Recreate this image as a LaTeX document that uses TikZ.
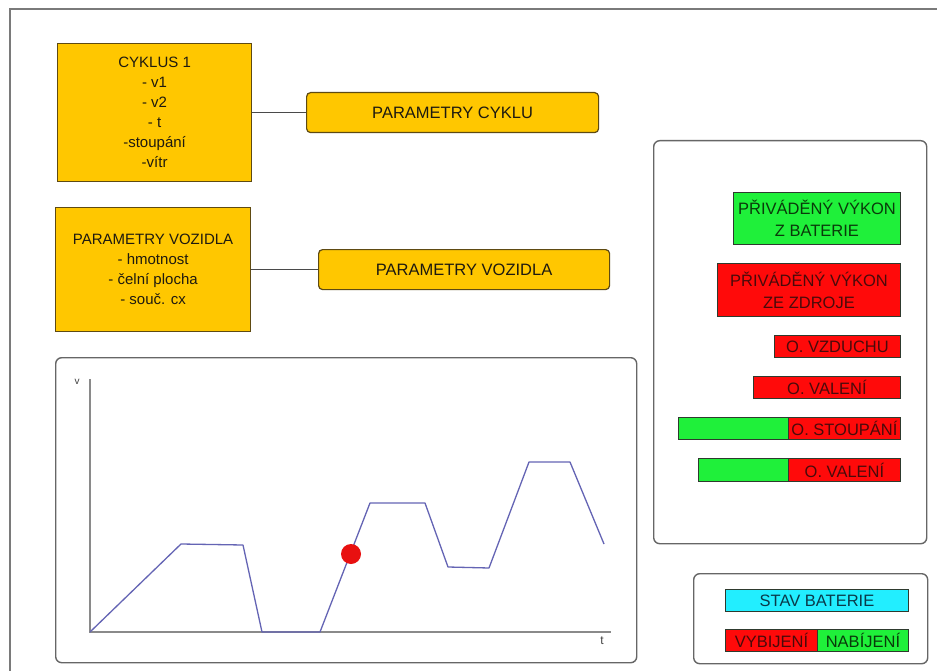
\documentclass[tikz,border=0pt]{standalone}
\usepackage{fontspec}
\setmainfont{Liberation Sans}
\begin{document}
\begin{tikzpicture}[x=1pt,y=-1pt,
  txt/.style={font=\fontsize{15}{20}\selectfont, align=center, inner sep=0pt},
  bigtxt/.style={font=\fontsize{16.5}{22}\selectfont},
  obox/.style={txt, draw=orangeedge, fill=orangefill, text=darktext, line width=1.2pt, anchor=north west},
  rbox/.style={obox, bigtxt, rounded corners=4pt},
  panel/.style={draw=panelgray, line width=1.4pt, rounded corners=6pt, anchor=north west, inner sep=0pt},
  redbox/.style={txt, bigtxt, draw=boxedge, fill=redfill, text=redtext, line width=0.9pt, anchor=north west},
  greenbox/.style={txt, bigtxt, draw=boxedge, fill=greenfill, text=greentext, line width=0.9pt, anchor=north west},
  cyanbox/.style={txt, bigtxt, draw=boxedge, fill=cyanfill, text=cyantext, line width=0.9pt, anchor=north west},
  link/.style={draw=linkgray, line width=1.3pt},
  axis/.style={draw=axisgray, line width=1.8pt},
  curve/.style={draw=curveblue, line width=1.3pt, line join=round},
]
\definecolor{orangefill}{HTML}{FFC700}
\definecolor{orangeedge}{HTML}{5E4A12}
\definecolor{darktext}{HTML}{1E1A10}
\definecolor{panelgray}{HTML}{666666}
\definecolor{framegray}{HTML}{7A7A7A}
\definecolor{boxedge}{HTML}{2E3A2E}
\definecolor{redfill}{HTML}{FF0A0A}
\definecolor{greenfill}{HTML}{1FF03A}
\definecolor{cyanfill}{HTML}{22EEFF}
\definecolor{redtext}{HTML}{4A0A0A}
\definecolor{greentext}{HTML}{0A3A0A}
\definecolor{cyantext}{HTML}{0A3A4A}
\definecolor{linkgray}{HTML}{4A4A4A}
\definecolor{axisgray}{HTML}{8A8A8A}
\definecolor{curveblue}{HTML}{6464B4}
\definecolor{dotred}{HTML}{E81010}

\useasboundingbox (0,0) rectangle (937,671);
\fill[white] (0,0) rectangle (937,671);

% outer window frame (only its top and left edges are in view)
\draw[framegray, line width=2pt] (10,671) -- (10,9.5) -- (937,9.5);

% cycle parameters
\node[obox, minimum width=194pt, minimum height=138pt] (cyk) at (57,43)
  {CYKLUS 1\\- v1\\- v2\\- t\\-stoupání\\-vítr};
\node[rbox, minimum width=292pt, minimum height=40pt] (pc) at (306,92) {PARAMETRY CYKLU};
\draw[link] (cyk.east) -- (pc.west);

% vehicle parameters
\node[obox, minimum width=195pt, minimum height=124pt] (veh) at (55,207)
  {PARAMETRY VOZIDLA\\- hmotnost\\- čelní plocha\\- souč. cx};
\node[rbox, minimum width=291pt, minimum height=40pt] (pv) at (318,249) {PARAMETRY VOZIDLA};
\draw[link] (veh.east) -- (pv.west);

% speed profile panel
\node[panel, minimum width=581pt, minimum height=305pt] (graph) at (55,357) {};
\coordinate (o) at (90,632);
\coordinate (ytop) at (90,379);
\coordinate (xend) at (611,632);
\draw[axis] (ytop) -- (o) -- (xend);
\node[font=\fontsize{10}{12}\selectfont, text=black!75, inner sep=0pt] (vlab) at (77,382) {v};
\node[font=\fontsize{12}{12}\selectfont, text=black!75, inner sep=0pt] (tlab) at (602,641) {t};
\draw[curve] (o) -- (181,544) -- (243,545) -- (262,632) -- (320,632)
  -- (370,503) -- (425,503) -- (448,567) -- (489,568)
  -- (529,462) -- (570,462) -- (604,544);
\fill[dotred] (351,554) circle (10pt);

% power flow panel
\node[panel, minimum width=273pt, minimum height=403pt] (power) at (653,140) {};
\node[greenbox, minimum width=167pt, minimum height=52pt] (pbat) at (733,192)
  {PŘIVÁDĚNÝ VÝKON\\Z BATERIE};
\node[redbox, minimum width=183pt, minimum height=53pt] (pzdr) at (717,263)
  {PŘIVÁDĚNÝ VÝKON\\ZE ZDROJE};
\node[redbox, minimum width=126pt, minimum height=22pt] (ovz) at (774,335) {O. VZDUCHU};
\node[redbox, minimum width=147pt, minimum height=22pt] (oval) at (753,376) {O. VALENÍ};
\node[greenbox, minimum width=110pt, minimum height=22pt] (gsto) at (678,417) {};
\node[redbox, minimum width=112pt, minimum height=22pt] (osto) at (788,417) {O. STOUPÁNÍ};
\node[greenbox, minimum width=90pt, minimum height=23pt] (gval) at (698,458) {};
\node[redbox, minimum width=112pt, minimum height=23pt] (oval2) at (788,458) {O. VALENÍ};

% battery state panel
\node[panel, minimum width=234pt, minimum height=90pt] (batt) at (693,573) {};
\node[cyanbox, minimum width=183pt, minimum height=22pt] (stav) at (725,589) {STAV BATERIE};
\node[redbox, minimum width=92pt, minimum height=22pt] (vyb) at (725,629) {VYBIJENÍ};
\node[greenbox, minimum width=91pt, minimum height=22pt] (nab) at (817,629) {NABÍJENÍ};
\end{tikzpicture}
\end{document}
